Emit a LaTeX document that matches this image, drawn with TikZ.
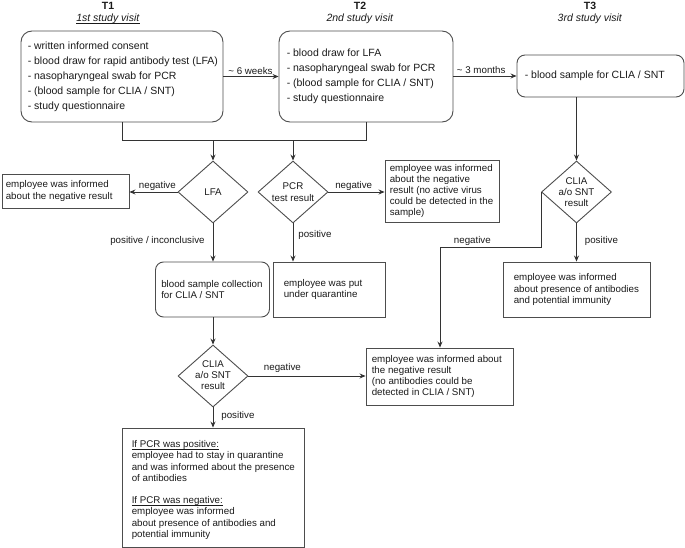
\documentclass[tikz,border=0pt]{standalone}
\usepackage{fontspec}
\setmainfont{Liberation Sans}
\usetikzlibrary{shapes.geometric,arrows.meta}
\definecolor{lc}{HTML}{333333}
\definecolor{bc}{HTML}{4d4d4d}
\definecolor{txt}{HTML}{1a1a1a}
\newcommand\myul[1]{\underline{\smash{#1}}}
\begin{document}
\begin{tikzpicture}[x=1pt,y=-1pt,
  every node/.append style={text=txt},
  big/.style={font=\fontsize{10.5}{15}\selectfont},
  small/.style={font=\fontsize{9.75}{11.2}\selectfont},
  ttl/.style={font=\fontsize{10.5}{12}\selectfont, align=center, inner sep=0pt},
  box/.style={draw=bc, line width=0.9pt, inner sep=0pt},
  rbox/.style={box, rounded corners=10pt},
  txtn/.style={small, align=left, inner sep=0pt, anchor=west},
  dia/.style={draw=bc, line width=0.9pt, diamond, inner sep=0pt, minimum width=70pt, minimum height=62pt},
  diat/.style={small, align=center, inner sep=0pt, font=\fontsize{9.75}{11.3}\selectfont},
  arr/.style={draw=lc, line width=0.8pt, -{Stealth[length=6pt,width=5pt]}},
  ln/.style={draw=lc, line width=0.8pt},
  lab/.style={small, inner sep=1pt},
]
\useasboundingbox (0,0) rectangle (685,548);

% titles
\node[ttl] (t1t) at (108,13) {\textbf{T1}\\\myul{\textit{1st study visit}}};
\node[ttl] (t2t) at (360,13) {\textbf{T2}\\\textit{2nd study visit}};
\node[ttl] (t3t) at (590,13) {\textbf{T3}\\\textit{3rd study visit}};

% top boxes
\node[rbox, minimum width=202pt, minimum height=91pt, rounded corners=11pt] (t1) at (122,76.5) {};
\node[txtn, big] (t1x) at ([xshift=7pt]t1.west) {- written informed consent\\- blood draw for rapid antibody test (LFA)\\- nasopharyngeal swab for PCR\\- (blood sample for CLIA / SNT)\\- study questionnaire};

\node[rbox, minimum width=174pt, minimum height=91pt, rounded corners=11pt] (t2) at (366,76.5) {};
\node[txtn, big] (t2x) at ([xshift=8pt]t2.west) {- blood draw for LFA\\- nasopharyngeal swab for PCR\\- (blood sample for CLIA / SNT)\\- study questionnaire};

\node[rbox, minimum width=167pt, minimum height=42pt, rounded corners=8pt] (t3) at (600.5,76) {};
\node[txtn, big] (t3x) at ([xshift=8pt]t3.west) {- blood sample for CLIA / SNT};

% diamonds
\node[dia] (lfa) at (213,192) {};
\node[diat] (lfat) at (lfa) {LFA};
\node[dia] (pcr) at (293,192) {};
\node[diat] (pcrt) at (pcr) {PCR\\test result};
\node[dia] (t3d) at (576.5,192) {};
\node[diat] (t3dt) at (t3d) {CLIA\\a/o SNT\\result};
\node[dia] (cl) at (213,376) {};
\node[diat] (clt) at ([yshift=1pt]cl.center) {CLIA\\a/o SNT\\result};

% result boxes
\node[box, minimum width=127pt, minimum height=34pt] (negl) at (65.5,191) {};
\node[txtn] (neglx) at ([xshift=4pt]negl.west) {employee was informed\\about the negative result};

\node[box, minimum width=114pt, minimum height=62pt] (pcrneg) at (442,191) {};
\node[txtn] (pcrnegx) at ([xshift=5pt]pcrneg.west) {employee was informed\\about the negative\\result (no active virus\\could be detected in the\\sample)};

\node[rbox, minimum width=114pt, minimum height=55pt, rounded corners=8pt] (blood) at (212.5,289.5) {};
\node[txtn] (bloodx) at ([xshift=6pt]blood.west) {blood sample collection\\for CLIA / SNT};

\node[box, minimum width=112pt, minimum height=55pt] (quar) at (329,289.5) {};
\node[txtn] (quarx) at ([xshift=11pt]quar.west) {employee was put\\under quarantine};

\node[box, minimum width=147pt, minimum height=55pt] (t3pos) at (576.5,289.5) {};
\node[txtn] (t3posx) at ([xshift=11pt]t3pos.west) {employee was informed\\about presence of antibodies\\and potential immunity};

\node[box, minimum width=147pt, minimum height=57pt] (negres) at (439.5,376.5) {};
\node[txtn] (negresx) at ([xshift=6pt]negres.west) {employee was informed about\\the negative result\\(no antibodies could be\\detected in CLIA / SNT)};

\node[box, minimum width=182pt, minimum height=119pt] (bot) at (213,487.5) {};
\node[txtn, anchor=north west] (botx) at ([xshift=10pt,yshift=-20pt]bot.north west) {\myul{If PCR was positive:}\\employee had to stay in quarantine\\and was informed about the presence\\of antibodies\\[11.2pt]\myul{If PCR was negative:}\\employee was informed\\about presence of antibodies and\\potential immunity};

% connectors
\coordinate (bus) at (0,140);
\coordinate (nb) at (440,247);
\draw[arr] (t1.south) -- (t1.south |- bus) -| (lfa.north);
\draw[arr] (t2.south) -- (t2.south |- bus) -| (pcr.north);
\draw[ln] (t1.south |- bus) -- (t2.south |- bus);

\draw[arr] (t1.east |- t2.west) -- node[lab, above, pos=0.49, yshift=1pt] {\textasciitilde{} 6 weeks} (t2.west);
\draw[arr] (t2.east |- t3.west) -- node[lab, above, pos=0.44, yshift=1pt] {\textasciitilde{} 3 months} (t3.west);

\draw[arr] (lfa.west) -- node[lab, above, pos=0.42] {negative} (negl.east |- lfa.west);
\draw[arr] (lfa.south) -- node[lab, left=7pt, pos=0.45] {positive / inconclusive} (blood.north -| lfa.south);

\draw[arr] (pcr.east) -- node[lab, above, pos=0.45] {negative} (pcrneg.west |- pcr.east);
\draw[arr] (pcr.south) -- node[lab, right=4pt, pos=0.3] {positive} (quar.north -| pcr.south);

\draw[arr] (t3.south -| t3d.north) -- (t3d.north);
\draw[arr] (t3d.west) |- node[lab, above, pos=0.84] {negative} (nb) -- (negres.north -| nb);
\draw[arr] (t3d.south) -- node[lab, right=7pt, pos=0.45] {positive} (t3pos.north -| t3d.south);

\draw[arr] (blood.south -| cl.north) -- (cl.north);
\draw[arr] (cl.east) -- node[lab, above=2pt, pos=0.29] {negative} (negres.west |- cl.east);
\draw[arr] (cl.south) -- node[lab, right=7pt, pos=0.43] {positive} (bot.north -| cl.south);
\end{tikzpicture}
\end{document}
